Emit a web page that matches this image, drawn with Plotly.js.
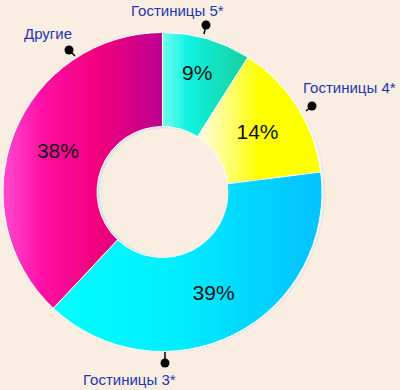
<!DOCTYPE html>
<html><head><meta charset="utf-8">
<script src="https://cdn.plot.ly/plotly-3.0.1.min.js"></script>
<style>html,body{margin:0;padding:0;background:#faeee3;}</style>
</head><body>
<div id="chart" style="width:400px;height:390px"></div>
<script>
const categories = ['Гостиницы 5*', 'Гостиницы 4*', 'Гостиницы 3*', 'Другие'];
const shares = [9, 14, 39, 38];
const sliceColors = ['#20e8c8', '#ffff00', '#00d8ff', '#f0007f'];
const gradientStops = [
  [[0, '#70fff0'], [0.3, '#10f2e0'], [1, '#18cf9c']],
  [[0, '#fffbea'], [0.3, '#ffff60'], [0.5, '#ffff00'], [1, '#ffff00']],
  [[0, '#00ffff'], [0.45, '#00eeff'], [1, '#04c0ff']],
  [[0, '#ff4ad0'], [0.25, '#ff10a4'], [0.6, '#f0007c'], [1, '#bc0090']]
];

const W = 400, H = 390;
const px = x => x / W;
const py = y => 1 - y / H;

// ring geometry (pixels)
const cx = 162.5, cy = 192, R = 159.5;

const pins = [
  {name: 'Другие', dot: [69, 50], end: [75, 56], text: [22, 33], anchor: 'left'},
  {name: 'Гостиницы 5*', dot: [206, 25], end: [204, 34], text: [129, 10], anchor: 'left'},
  {name: 'Гостиницы 4*', dot: [312, 106], end: [306, 111], text: [398, 87], anchor: 'right'},
  {name: 'Гостиницы 3*', dot: [165, 363], end: [165, 352], text: [178, 379], anchor: 'right'}
];

const shapes = [];
// outer rim shadow (right side)
shapes.push({type: 'circle', layer: 'below', xref: 'paper', yref: 'paper',
  x0: px(cx - R + 3), x1: px(cx + R + 3), y0: py(cy + R + 1), y1: py(cy - R + 1),
  fillcolor: '#e6e6e6', line: {width: 0}});
shapes.push({type: 'circle', layer: 'below', xref: 'paper', yref: 'paper',
  x0: px(cx - R + 1.5), x1: px(cx + R + 1.5), y0: py(cy + R), y1: py(cy - R),
  fillcolor: '#f8f8f8', line: {width: 0}});
// inner hole shadow
const r = 65.5;
shapes.push({type: 'circle', layer: 'below', xref: 'paper', yref: 'paper',
  x0: px(cx - r), x1: px(cx + r), y0: py(cy + r), y1: py(cy - r),
  fillcolor: '#e2e2e2', line: {width: 0}});
shapes.push({type: 'circle', layer: 'below', xref: 'paper', yref: 'paper',
  x0: px(cx - r + 3), x1: px(cx + r + 2), y0: py(cy + r - 1), y1: py(cy - r + 2),
  fillcolor: '#faeee3', line: {width: 0}});

const annotations = [];
pins.forEach(p => {
  shapes.push({type: 'line', xref: 'paper', yref: 'paper',
    x0: px(p.dot[0]), y0: py(p.dot[1]), x1: px(p.end[0]), y1: py(p.end[1]),
    line: {color: '#000', width: 1.5}});
  shapes.push({type: 'circle', xref: 'paper', yref: 'paper',
    x0: px(p.dot[0] - 4.5), x1: px(p.dot[0] + 4.5), y0: py(p.dot[1] + 4.5), y1: py(p.dot[1] - 4.5),
    fillcolor: '#000', line: {width: 0}});
  annotations.push({xref: 'paper', yref: 'paper', x: px(p.text[0]), y: py(p.text[1]),
    xanchor: p.anchor, yanchor: 'middle', showarrow: false, text: p.name,
    font: {family: 'Liberation Sans, Arial, sans-serif', size: 15, color: '#2236b0'}});
});

const trace = {
  type: 'pie',
  labels: categories,
  values: shares,
  sort: false,
  direction: 'clockwise',
  rotation: 0,
  hole: 65.5 / 159.5,
  marker: {colors: sliceColors, line: {color: '#ffffff', width: 1}},
  texttemplate: '%{value}%',
  textposition: 'inside',
  insidetextorientation: 'horizontal',
  textfont: {family: 'Liberation Sans, Arial, sans-serif', size: 21, color: '#111'},
  showlegend: false,
  hoverinfo: 'none',
  domain: {x: [px(cx - R), px(cx + R)], y: [py(cy + R), py(cy - R)]}
};

const layout = {
  width: W, height: H,
  margin: {l: 0, r: 0, t: 0, b: 0},
  paper_bgcolor: '#faeee3',
  plot_bgcolor: '#faeee3',
  showlegend: false,
  shapes: shapes,
  annotations: annotations
};

Plotly.newPlot('chart', [trace], layout, {staticPlot: true}).then(() => {
  const svg = document.querySelector('#chart svg.main-svg');
  const NS = 'http://www.w3.org/2000/svg';
  let defs = svg.querySelector('defs');
  if (!defs) { defs = document.createElementNS(NS, 'defs'); svg.insertBefore(defs, svg.firstChild); }
  gradientStops.forEach((stops, i) => {
    const g = document.createElementNS(NS, 'linearGradient');
    g.setAttribute('id', 'sliceGrad' + i);
    g.setAttribute('x1', '0'); g.setAttribute('y1', '0');
    g.setAttribute('x2', '1'); g.setAttribute('y2', '0');
    stops.forEach(s => {
      const st = document.createElementNS(NS, 'stop');
      st.setAttribute('offset', s[0]);
      st.setAttribute('stop-color', s[1]);
      g.appendChild(st);
    });
    defs.appendChild(g);
  });
  const paths = document.querySelectorAll('#chart g.slice path.surface');
  paths.forEach((p, i) => { p.style.fill = 'url(#sliceGrad' + i + ')'; });
});
</script>
</body></html>
